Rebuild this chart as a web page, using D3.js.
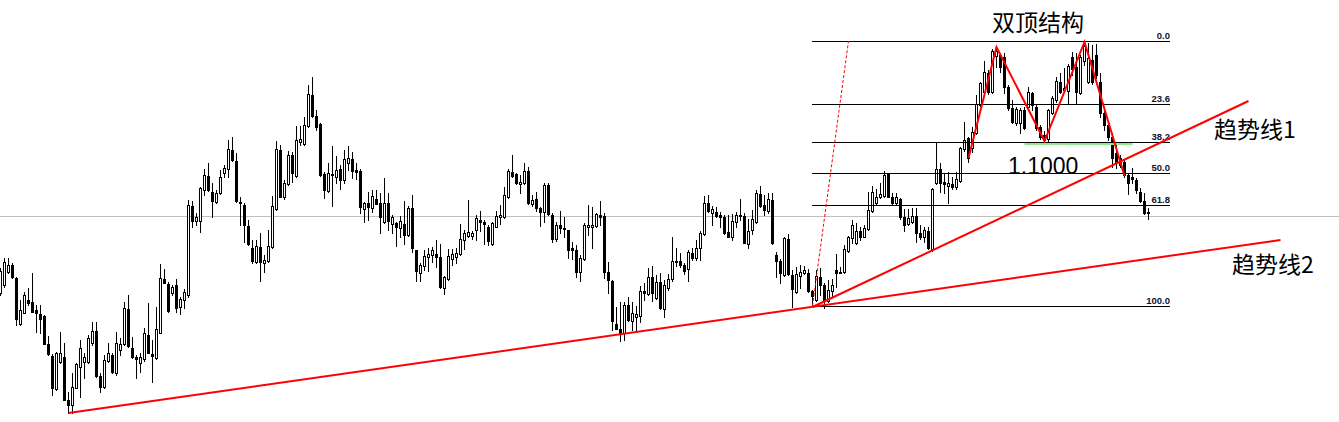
<!DOCTYPE html>
<html>
<head>
<meta charset="utf-8">
<script src="https://cdn.jsdelivr.net/npm/d3@7"></script>
<style>
  body { margin: 0; background: #fff; }
  svg { display: block; }
</style>
</head>
<body>
<script>
// daily candles (oldest first)
const opens = [
  0.951,0.959,0.972,0.979,0.966,0.920,0.931,0.944,0.942,0.934,
  0.930,0.928,0.900,0.888,0.855,0.882,0.887,0.844,0.839,0.856,
  0.877,0.882,0.882,0.901,0.913,0.868,0.857,0.883,0.889,0.871,
  0.894,0.900,0.935,0.896,0.887,0.881,0.885,0.909,0.890,0.886,
  0.911,0.965,0.960,0.951,0.959,0.937,0.944,0.949,1.038,1.023,
  1.023,1.054,1.068,1.052,1.042,1.051,1.071,1.075,1.094,1.083,
  1.042,1.039,1.018,0.996,0.982,0.997,0.981,0.983,0.997,1.035,
  1.094,1.047,1.060,1.089,1.068,1.102,1.100,1.118,1.149,1.128,
  1.120,1.070,1.053,1.069,1.067,1.075,1.064,1.081,1.085,1.074,
  1.073,1.035,1.041,1.036,1.045,1.041,1.022,1.041,1.020,1.021,
  1.016,1.020,1.009,1.036,0.994,0.971,0.978,0.987,0.989,0.990,
  0.987,0.956,0.965,0.985,0.987,0.990,1.004,1.008,1.008,1.014,
  1.024,1.022,1.017,1.000,1.017,1.027,1.027,1.047,1.072,1.070,
  1.060,1.061,1.073,1.040,1.045,1.036,1.032,1.059,1.029,1.005,
  1.019,1.016,1.014,0.996,0.994,0.972,0.985,1.017,1.017,1.018,
  1.029,1.028,0.972,0.963,0.920,0.915,0.911,0.939,0.923,0.927,
  0.928,0.953,0.950,0.967,0.946,0.962,0.935,0.956,0.965,0.983,
  0.983,0.979,0.975,0.991,0.986,0.996,1.010,1.041,1.031,1.032,
  1.029,1.027,1.012,1.007,1.022,1.029,1.028,1.000,1.014,1.022,
  1.050,1.039,1.033,1.044,0.989,0.983,0.969,1.005,0.969,0.952,
  0.968,0.971,0.971,0.953,0.944,0.967,0.959,0.943,0.953,0.974,
  0.971,0.972,0.993,1.006,1.001,1.013,1.007,1.015,1.033,1.041,
  1.047,1.048,1.070,1.047,1.041,1.045,1.027,1.020,1.022,1.028,
  1.011,1.007,1.013,0.995,1.061,1.075,1.062,1.058,1.060,1.057,
  1.063,1.095,1.106,1.096,1.111,1.139,1.152,1.171,1.152,1.188,
  1.189,1.187,1.157,1.136,1.121,1.121,1.134,1.137,1.151,1.137,
  1.117,1.109,1.105,1.131,1.144,1.162,1.154,1.153,1.187,1.177,
  1.151,1.183,1.162,1.184,1.189,1.162,1.131,1.119,1.107,1.091,
  1.086,1.082,1.069,1.067,1.064,1.052,1.043,1.032
]
const highs = [
  0.976,0.986,0.986,0.981,0.967,0.944,0.952,0.956,0.971,0.939,
  0.939,0.929,0.908,0.890,0.892,0.912,0.901,0.852,0.871,0.881,
  0.904,0.891,0.909,0.922,0.922,0.871,0.889,0.901,0.891,0.912,
  0.906,0.942,0.949,0.907,0.889,0.891,0.916,0.941,0.904,0.937,
  0.980,0.975,0.962,0.959,0.965,0.947,0.955,1.044,1.043,1.031,
  1.057,1.075,1.081,1.061,1.054,1.074,1.079,1.104,1.107,1.091,
  1.047,1.041,1.024,1.004,1.004,1.011,0.989,1.014,1.048,1.103,
  1.099,1.064,1.093,1.092,1.118,1.118,1.127,1.159,1.167,1.134,
  1.121,1.072,1.081,1.098,1.088,1.079,1.094,1.098,1.092,1.081,
  1.075,1.042,1.052,1.054,1.054,1.051,1.066,1.051,1.029,1.022,
  1.028,1.043,1.038,1.049,0.994,0.981,0.994,0.996,0.997,1.004,
  1.000,0.968,0.995,0.995,0.996,1.020,1.014,1.044,1.013,1.029,
  1.033,1.024,1.019,1.022,1.033,1.039,1.057,1.075,1.089,1.071,
  1.069,1.081,1.077,1.049,1.052,1.037,1.061,1.061,1.031,1.022,
  1.033,1.027,1.014,1.002,0.999,0.989,1.021,1.039,1.037,1.031,
  1.043,1.031,0.982,0.964,0.937,0.942,0.942,0.947,0.942,0.938,
  0.958,0.961,0.976,0.978,0.969,0.971,0.964,0.970,1.007,0.996,
  0.991,0.981,0.994,0.996,1.004,1.013,1.048,1.049,1.038,1.037,
  1.032,1.029,1.029,1.030,1.032,1.045,1.031,1.025,1.034,1.054,
  1.058,1.049,1.051,1.051,0.992,0.985,1.007,1.010,0.974,0.977,
  0.979,0.978,0.975,0.954,0.974,0.976,0.961,0.964,0.965,0.990,
  0.977,0.999,1.008,1.024,1.021,1.017,1.019,1.052,1.058,1.055,
  1.061,1.073,1.071,1.051,1.051,1.046,1.035,1.035,1.036,1.036,
  1.019,1.017,1.017,1.056,1.102,1.081,1.071,1.072,1.067,1.072,
  1.097,1.122,1.107,1.117,1.149,1.162,1.183,1.174,1.195,1.197,
  1.191,1.191,1.159,1.144,1.137,1.136,1.137,1.157,1.152,1.139,
  1.119,1.113,1.135,1.148,1.167,1.171,1.176,1.180,1.192,1.191,
  1.189,1.203,1.201,1.199,1.200,1.171,1.134,1.122,1.111,1.099,
  1.089,1.085,1.070,1.076,1.066,1.056,1.051,1.036
]
const lows = [
  0.949,0.957,0.971,0.966,0.919,0.919,0.931,0.939,0.932,0.912,
  0.911,0.900,0.889,0.849,0.854,0.881,0.844,0.831,0.831,0.856,
  0.847,0.866,0.881,0.899,0.867,0.852,0.856,0.882,0.871,0.869,
  0.889,0.899,0.897,0.886,0.866,0.872,0.883,0.891,0.862,0.885,
  0.911,0.961,0.932,0.949,0.932,0.930,0.936,0.947,1.017,1.019,
  1.012,1.049,1.053,1.027,1.041,1.050,1.067,1.067,1.083,1.042,
  1.019,1.002,0.999,0.981,0.981,0.963,0.972,0.982,0.996,1.034,
  1.047,1.045,1.059,1.062,1.067,1.099,1.099,1.117,1.127,1.114,
  1.068,1.046,1.052,1.038,1.061,1.055,1.061,1.074,1.066,1.065,
  1.031,1.022,1.024,1.032,1.040,1.011,1.021,1.014,1.011,0.998,
  1.007,1.000,1.008,0.992,0.963,0.963,0.974,0.973,0.982,0.977,
  0.956,0.950,0.964,0.979,0.981,0.989,0.995,1.007,1.005,1.004,
  1.013,1.000,0.999,0.999,1.017,1.020,1.026,1.046,1.067,1.060,
  1.051,1.060,1.040,1.038,1.033,1.018,1.022,1.029,1.002,1.003,
  1.011,1.007,0.986,0.985,0.967,0.963,0.984,1.009,0.996,1.017,
  1.019,0.966,0.951,0.914,0.915,0.903,0.904,0.923,0.914,0.914,
  0.922,0.944,0.949,0.943,0.945,0.935,0.927,0.954,0.963,0.978,
  0.977,0.970,0.963,0.984,0.984,0.984,1.009,1.032,1.019,1.027,
  1.017,1.010,1.007,1.004,1.017,1.024,1.001,0.996,1.010,1.021,
  1.037,1.029,1.031,1.000,0.967,0.961,0.968,0.969,0.937,0.951,
  0.956,0.970,0.952,0.938,0.943,0.949,0.936,0.942,0.948,0.957,
  0.971,0.971,0.992,1.001,1.000,1.004,1.007,1.014,1.032,1.040,
  1.046,1.047,1.047,1.040,1.040,1.025,1.013,1.019,1.021,1.002,
  1.005,1.002,0.995,0.993,1.060,1.052,1.051,1.041,1.055,1.055,
  1.062,1.093,1.082,1.092,1.110,1.138,1.151,1.150,1.151,1.177,
  1.172,1.151,1.134,1.121,1.119,1.111,1.115,1.134,1.134,1.114,
  1.105,1.100,1.102,1.130,1.142,1.151,1.152,1.140,1.169,1.140,
  1.150,1.179,1.161,1.160,1.166,1.127,1.114,1.104,1.077,1.076,
  1.077,1.067,1.050,1.061,1.051,1.042,1.030,1.025
]
const closes = [
  0.973,0.982,0.979,0.967,0.925,0.934,0.949,0.941,0.932,0.931,
  0.925,0.900,0.890,0.856,0.891,0.891,0.844,0.839,0.857,0.880,
  0.896,0.887,0.906,0.913,0.868,0.857,0.884,0.891,0.872,0.901,
  0.900,0.936,0.898,0.887,0.885,0.887,0.911,0.891,0.888,0.915,
  0.966,0.961,0.933,0.957,0.936,0.945,0.952,1.039,1.023,1.027,
  1.056,1.069,1.054,1.043,1.051,1.067,1.076,1.095,1.084,1.043,
  1.041,1.019,1.000,0.983,0.998,0.982,0.984,0.998,1.038,1.095,
  1.047,1.061,1.089,1.071,1.104,1.105,1.119,1.150,1.128,1.117,
  1.069,1.054,1.071,1.070,1.074,1.064,1.085,1.086,1.073,1.072,
  1.037,1.041,1.037,1.048,1.040,1.027,1.041,1.023,1.027,1.017,
  1.023,1.009,1.036,0.996,0.973,0.979,0.988,0.990,0.994,0.987,
  0.957,0.967,0.988,0.990,0.991,1.005,1.011,1.012,1.011,1.026,
  1.022,1.020,1.003,1.021,1.028,1.029,1.049,1.073,1.068,1.061,
  1.062,1.073,1.041,1.044,1.036,1.032,1.059,1.030,1.005,1.019,
  1.016,1.015,0.994,0.994,0.972,0.986,1.019,1.019,1.019,1.030,
  1.027,0.972,0.964,0.923,0.915,0.911,0.939,0.924,0.931,0.930,
  0.953,0.951,0.967,0.951,0.962,0.936,0.959,0.965,0.983,0.982,
  0.979,0.973,0.992,0.986,0.996,1.011,1.041,1.033,1.035,1.028,
  1.027,1.011,1.007,1.023,1.029,1.028,1.001,1.013,1.025,1.051,
  1.038,1.034,1.045,1.001,0.983,0.971,1.006,0.970,0.955,0.970,
  0.972,0.974,0.953,0.948,0.968,0.959,0.943,0.954,0.959,0.971,
  0.972,0.995,1.007,1.019,1.013,1.007,1.016,1.034,1.052,1.047,
  1.050,1.069,1.047,1.041,1.047,1.027,1.019,1.026,1.028,1.011,
  1.007,1.014,0.996,1.055,1.075,1.061,1.060,1.061,1.057,1.065,
  1.096,1.104,1.086,1.112,1.140,1.161,1.172,1.152,1.193,1.193,
  1.177,1.157,1.136,1.122,1.135,1.134,1.116,1.152,1.139,1.116,
  1.107,1.104,1.134,1.146,1.163,1.152,1.156,1.178,1.175,1.152,
  1.187,1.198,1.186,1.162,1.169,1.131,1.119,1.107,1.086,1.081,
  1.079,1.069,1.061,1.065,1.054,1.043,1.031,1.031
]

const bidPrice = 1.028

// fibonacci retracement, anchored on bar index / price
const fibLevels = [0, 23.6, 38.2, 50, 61.8, 100]
const fibLow = [203, 0.938]
const fibHigh = [212, 1.203]
const fibRightEdge = 292.4

// hand drawn objects, [bar index, price]
const trendLine1 = [[203, 0.937], [312, 1.143]]
const trendLine2 = [[17, 0.831], [320, 1.004]]
const doubleTop = [[242, 1.086], [249, 1.197], [261, 1.103], [271, 1.202], [281, 1.068]]
const neckline = [[256, 1.100], [283, 1.100]]

const notes = [
  { text: "双顶结构", at: [248, 1.213], size: 23, cjk: true },
  { text: "1.1000", at: [252, 1.070], size: 23, cjk: false },
  { text: "趋势线1", at: [303.5, 1.106], size: 23, cjk: true },
  { text: "趋势线2", at: [308, 0.971], size: 23, cjk: true },
]

const w = 1339
const h = 422

const svg = d3.select("body").append("svg").attr("width", w).attr("height", h)

const xScale = d3.scaleLinear().domain([0, opens.length - 1]).range([0, 1148])
const yScale = d3.scaleLinear().domain([0.822, 1.244]).range([h, 0])

const px = (i) => Math.round(xScale(i))
const py = (p) => Math.round(yScale(p))

const bars = opens.map((o, i) => ({ i, o, hi: highs[i], lo: lows[i], c: closes[i] }))

// current price line
svg.append("line")
  .attr("x1", 0).attr("x2", w)
  .attr("y1", py(bidPrice) + 0.5).attr("y2", py(bidPrice) + 0.5)
  .attr("stroke", "#c0c0c0")

// candles
const g = svg.append("g").attr("shape-rendering", "crispEdges")

g.selectAll("rect.wick")
  .data(bars)
  .enter()
  .append("rect")
  .attr("class", "wick")
  .attr("x", (d) => px(d.i))
  .attr("y", (d) => py(d.hi))
  .attr("width", 1)
  .attr("height", (d) => Math.max(1, py(d.lo) - py(d.hi) + 1))
  .attr("fill", "#000")

g.selectAll("rect.body")
  .data(bars)
  .enter()
  .append("rect")
  .attr("class", "body")
  .attr("x", (d) => px(d.i) - 1)
  .attr("y", (d) => py(Math.max(d.o, d.c)))
  .attr("width", 3)
  .attr("height", (d) => py(Math.min(d.o, d.c)) - py(Math.max(d.o, d.c)) + 1)
  .attr("fill", "#000")

// bull candles are hollow
g.selectAll("rect.hollow")
  .data(bars.filter((d) => d.c > d.o && py(d.o) - py(d.c) >= 2))
  .enter()
  .append("rect")
  .attr("class", "hollow")
  .attr("x", (d) => px(d.i))
  .attr("y", (d) => py(d.c) + 1)
  .attr("width", 1)
  .attr("height", (d) => py(d.o) - py(d.c) - 1)
  .attr("fill", "#fff")

// fibo levels
const fibX1 = px(fibLow[0])
const fibX2 = Math.round(xScale(fibRightEdge))
const fib = svg.append("g")
fibLevels.forEach((lv) => {
  const p = fibHigh[1] - (fibHigh[1] - fibLow[1]) * lv / 100
  const y = py(p) + 0.5
  fib.append("line")
    .attr("x1", fibX1).attr("x2", fibX2)
    .attr("y1", y).attr("y2", y)
    .attr("stroke", "#000")
    .attr("shape-rendering", "crispEdges")
  fib.append("text")
    .attr("x", fibX2)
    .attr("y", y - 2.5)
    .attr("text-anchor", "end")
    .attr("font-family", "'Liberation Sans', Arial, sans-serif")
    .attr("font-size", "9.5px")
    .attr("font-weight", "bold")
    .attr("fill", "#111133")
    .text(lv.toFixed(1))
})
fib.append("line")
  .attr("x1", xScale(fibLow[0]) + 0.5).attr("y1", yScale(fibLow[1]))
  .attr("x2", xScale(fibHigh[0]) + 0.5).attr("y2", yScale(fibHigh[1]))
  .attr("stroke", "#ff0000")
  .attr("stroke-width", 1)
  .attr("stroke-dasharray", "3,2")

const line = d3.line().x((d) => xScale(d[0]) + 0.5).y((d) => yScale(d[1]))

svg.append("path")
  .attr("d", line(neckline))
  .attr("fill", "none")
  .attr("stroke", "#8fe98f")
  .attr("stroke-width", 2)

;[trendLine1, trendLine2, doubleTop].forEach((pts) => {
  svg.append("path")
    .attr("d", line(pts))
    .attr("fill", "none")
    .attr("stroke", "#ff0000")
    .attr("stroke-width", 2)
})

svg.selectAll("text.note")
  .data(notes)
  .enter()
  .append("text")
  .attr("class", "note")
  .attr("x", (d) => xScale(d.at[0]))
  .attr("y", (d) => yScale(d.at[1]))
  .attr("font-family", (d) => d.cjk
    ? "'Noto Sans CJK SC', 'Liberation Sans', sans-serif"
    : "'Liberation Sans', Arial, sans-serif")
  .attr("font-size", (d) => d.size + "px")
  .attr("fill", "#000")
  .text((d) => d.text)
</script>
</body>
</html>
